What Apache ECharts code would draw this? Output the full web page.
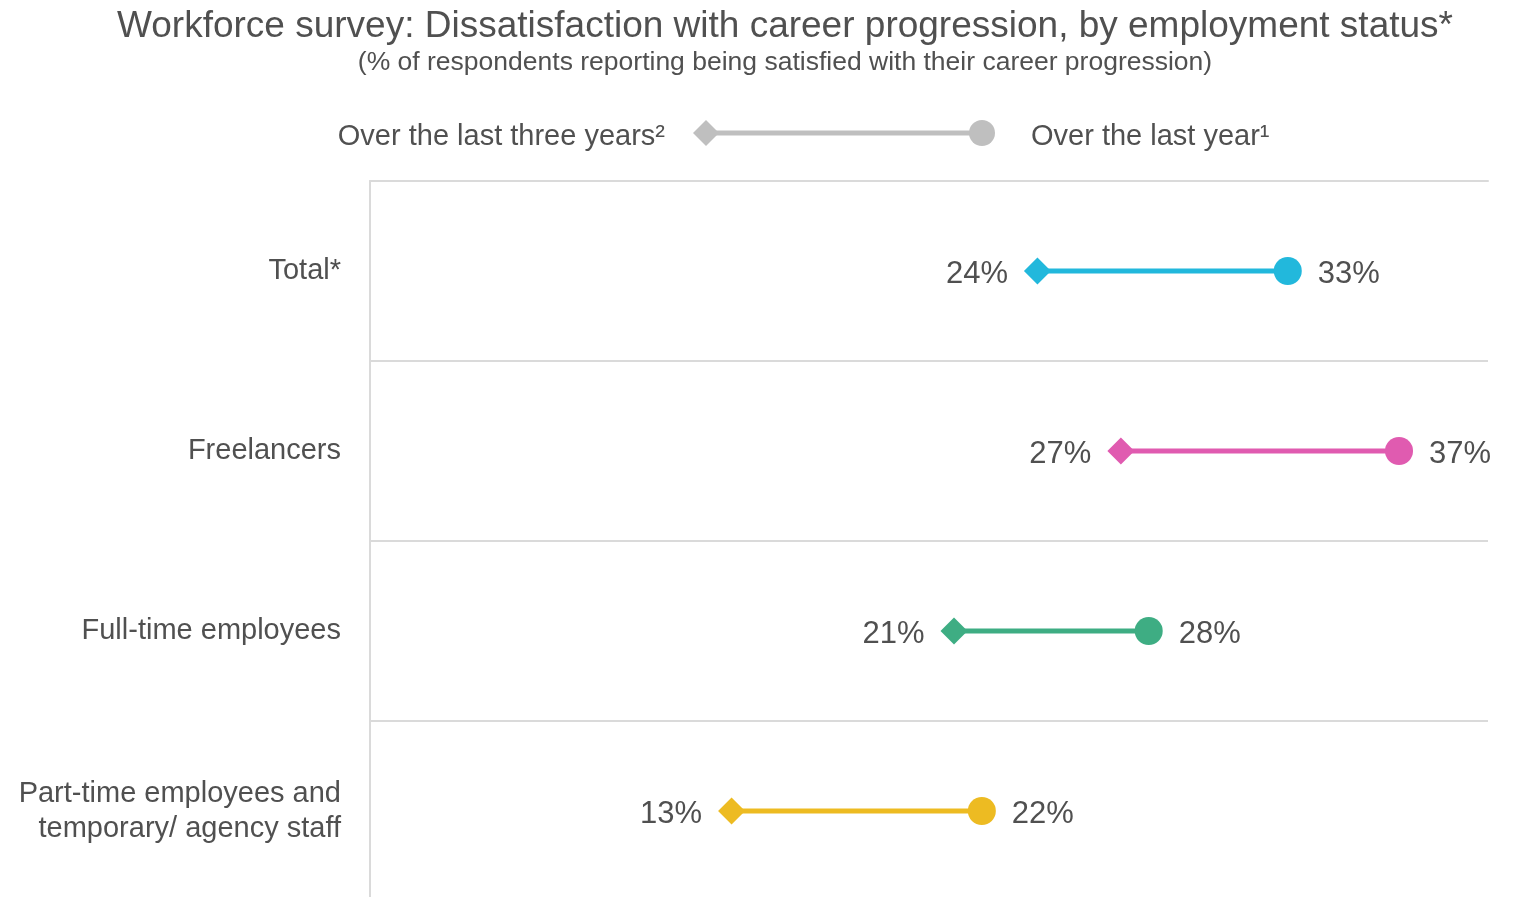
<!DOCTYPE html>
<html>
<head>
<meta charset="utf-8">
<script src="https://cdn.jsdelivr.net/npm/echarts@6/dist/echarts.min.js"></script>
<style>
  html, body { margin: 0; padding: 0; background: #ffffff; overflow: hidden; }
  #chart { width: 1532px; height: 901px; }
</style>
</head>
<body>
<div id="chart"></div>
<script>
// Survey categories (top to bottom)
const categories = [
  'Total*',
  'Freelancers',
  'Full-time employees',
  'Part-time employees and\ntemporary/ agency staff'
];
// Share of respondents (%)
const overLastThreeYears = [24, 27, 21, 13];
const overLastYear = [33, 37, 28, 22];
const rowColors = ['#22B8DC', '#E05BB0', '#3EAD83', '#EDBB22'];

const TEXT = '#505050';
const FONT = '"Liberation Sans", Arial, sans-serif';

const chart = echarts.init(document.getElementById('chart'), null, { renderer: 'canvas' });

// One dumbbell per category: diamond (three years) joined to circle (last year)
const series = categories.map((cat, i) => ({
  type: 'line',
  name: cat,
  data: [
    {
      value: [overLastThreeYears[i], cat],
      symbol: 'diamond',
      symbolSize: 27,
      label: { position: 'left', distance: 16 }
    },
    {
      value: [overLastYear[i], cat],
      symbol: 'circle',
      symbolSize: 28,
      label: { position: 'right', distance: 16 }
    }
  ],
  lineStyle: { color: rowColors[i], width: 5 },
  itemStyle: { color: rowColors[i], opacity: 1 },
  showAllSymbol: true,
  animation: false,
  label: {
    show: true,
    fontFamily: FONT,
    fontSize: 31,
    color: TEXT,
    offset: [0, 3],
    formatter: p => p.value[0] + '%'
  },
  emphasis: { disabled: true }
}));

// Legend drawn as a sample dumbbell with text on each side
const legendY = 133;
const legendGraphics = [
  {
    type: 'text', right: 1532 - 665, top: legendY - 11,
    style: { text: 'Over the last three years²', font: '29px ' + FONT, fill: TEXT, textAlign: 'right' }
  },
  {
    type: 'line',
    shape: { x1: 706, y1: legendY, x2: 982, y2: legendY },
    style: { stroke: '#BFBFBF', lineWidth: 5 }
  },
  {
    type: 'polygon',
    shape: { points: [[706, legendY - 13], [719, legendY], [706, legendY + 13], [693, legendY]] },
    style: { fill: '#BFBFBF' }
  },
  {
    type: 'circle',
    shape: { cx: 982, cy: legendY, r: 13 },
    style: { fill: '#BFBFBF' }
  },
  {
    type: 'text', left: 1031, top: legendY - 11,
    style: { text: 'Over the last year¹', font: '29px ' + FONT, fill: TEXT }
  }
];

chart.setOption({
  backgroundColor: '#ffffff',
  animation: false,
  title: [
    {
      text: 'Workforce survey: Dissatisfaction with career progression, by employment status*',
      left: 780, textAlign: 'center', top: 3,
      textStyle: { fontFamily: FONT, fontSize: 37, fontWeight: 'normal', color: TEXT }
    },
    {
      text: '(% of respondents reporting being satisfied with their career progression)',
      left: 780, textAlign: 'center', top: 44,
      textStyle: { fontFamily: FONT, fontSize: 26.5, fontWeight: 'normal', color: TEXT }
    }
  ],
  grid: { left: 370, top: 181, right: 44, bottom: 0, containLabel: false },
  xAxis: {
    type: 'value',
    position: 'top',
    min: 0,
    max: 40.2,
    axisLine: { show: true, lineStyle: { color: '#DADADA', width: 2 } },
    axisTick: { show: false },
    axisLabel: { show: false },
    splitLine: { show: false }
  },
  yAxis: {
    type: 'category',
    data: categories,
    inverse: true,
    boundaryGap: true,
    axisLine: { show: true, lineStyle: { color: '#DADADA', width: 2 } },
    axisTick: { show: false },
    splitLine: { show: true, lineStyle: { color: '#DADADA', width: 2 } },
    axisLabel: {
      fontFamily: FONT,
      fontSize: 29,
      color: TEXT,
      margin: 29,
      lineHeight: 35,
      align: 'right',
      padding: [0, 0, 12, 0]
    }
  },
  graphic: legendGraphics,
  series: series
});
</script>
</body>
</html>
